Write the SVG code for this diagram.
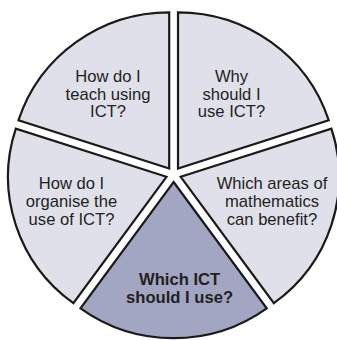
<svg xmlns="http://www.w3.org/2000/svg" width="337" height="340" viewBox="0 0 337 340">
  <style>
    .seg { fill: #dfe0ea; stroke: #1a1a1a; stroke-width: 2.2; stroke-linejoin: miter; }
    .seg.key { fill: #a2a6c2; }
    .lbl { font-family: "Liberation Sans", Arial, sans-serif; font-size: 16.6px; fill: #231f20; text-anchor: middle; }
    .lbl.bold { font-weight: bold; }
  </style>
  <rect width="337" height="340" fill="#ffffff"/>

  <!-- exploded pie: five 72-degree segments, each pushed out along its bisector -->
  <g id="teach">
    <path class="seg" d="M169.19,168.43 L18.54,120.2 A158.4,156.1 0 0 1 169.19,12.33 Z"/>
    <text class="lbl" x="108" y="82">How do I</text>
    <text class="lbl" x="108" y="99.6">teach using</text>
    <text class="lbl" x="108" y="117.2">ICT?</text>
  </g>

  <g id="why">
    <path class="seg" d="M178.01,168.43 L178.01,12.33 A158.4,156.1 0 0 1 328.66,120.2 Z"/>
    <text class="lbl" x="231.5" y="82">Why</text>
    <text class="lbl" x="231.5" y="99.6">should I</text>
    <text class="lbl" x="231.5" y="117.2">use ICT?</text>
  </g>

  <g id="areas">
    <path class="seg" d="M180.73,176.82 L331.38,128.59 A158.4,156.1 0 0 1 273.84,303.11 Z"/>
    <text class="lbl" x="272" y="188.5">Which areas of</text>
    <text class="lbl" x="272" y="206.7">mathematics</text>
    <text class="lbl" x="272" y="224.9">can benefit?</text>
  </g>

  <g id="which">
    <path class="seg key" d="M173.6,182 L266.71,308.29 A158.4,156.1 0 0 1 80.49,308.29 Z"/>
    <text class="lbl bold" x="179.6" y="285">Which ICT</text>
    <text class="lbl bold" x="179.6" y="302.5">should I use?</text>
  </g>

  <g id="organise">
    <path class="seg" d="M166.47,176.82 L73.36,303.11 A158.4,156.1 0 0 1 15.82,128.59 Z"/>
    <text class="lbl" x="71.5" y="188.5">How do I</text>
    <text class="lbl" x="71.5" y="206.7">organise the</text>
    <text class="lbl" x="71.5" y="224.9">use of ICT?</text>
  </g>
</svg>
